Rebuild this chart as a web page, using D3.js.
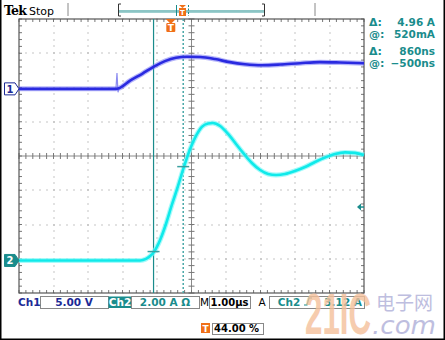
<!DOCTYPE html>
<html><head><meta charset="utf-8">
<script src="https://cdn.jsdelivr.net/npm/d3@7"></script>
<style>html,body{margin:0;padding:0;background:#fff;}svg{display:block;}</style>
</head><body>
<script>
// ---- data (time in µs relative to trigger) ----
const ch1Time = [-4.40,-1.59,-1.56,-1.53,-1.50,-1.18,-0.83,-0.49,-0.17,0.15,0.47,0.85,1.28,1.71,2.15,2.64,3.17,3.75,4.32,4.90,5.60];
const ch1Volts = [0,0,2.3,-0.5,0.1,1.2,2.2,3.25,4.05,4.55,4.7,4.65,4.35,3.9,3.6,3.45,3.55,3.75,3.9,3.85,3.75];
const ch2Time = [-4.40,-0.89,-0.72,-0.60,-0.49,-0.31,-0.14,0.03,0.21,0.38,0.56,0.73,0.90,1.08,1.22,1.43,1.66,1.89,2.12,2.35,2.59,2.82,3.05,3.31,3.60,3.89,4.18,4.47,4.76,5.05,5.34,5.60];
const ch2Amps = [0,0,0.09,0.26,0.5,1.2,2.13,3.24,4.35,5.46,6.51,7.27,7.80,8.0,8.03,7.85,7.39,6.80,6.22,5.69,5.28,5.05,4.99,5.05,5.23,5.46,5.75,6.01,6.22,6.31,6.28,6.16];
const cursorTimes = [-0.5, 0.36];
const cursorAmps = [0.52, 5.48];
const triggerLevel = 3.12;
const ch1Scale = 5.0, ch2Scale = 2.0;       // per division
const ch1Offset = 1.96, ch2Offset = -3.05;  // divisions
const readout = [["Δ:","4.96 A"],["@:","520mA"],["Δ:","860ns"],["@:","−500ns"]];

const W=445,H=340, L=19,R=364,T=19,B=293;
const svg=d3.select("body").append("svg").attr("width",W).attr("height",H);
const x=d3.scaleLinear().domain([-4.4,5.6]).range([L,R]);
const ydiv=d3.scaleLinear().domain([-4,4]).range([B,T]);
const y1=v=>ydiv(ch1Offset+v/ch1Scale);
const y2=v=>ydiv(ch2Offset+v/ch2Scale);
const dx=(R-L)/10, dy=(B-T)/8;
const TEAL="#1a8c8c", BLUE1="#1c2a96", ORANGE="#f07018";

svg.append("rect").attr("width",W).attr("height",H).attr("fill","#fff");

// graticule
const g=svg.append("g");
const dots=[];
for(let i=1;i<10;i++){ if(i===5)continue; for(let j=0;j<=40;j++) dots.push([L+i*dx, T+j*dy/5]); }
for(let j=1;j<8;j++){ if(j===4)continue; for(let i=0;i<=50;i++) dots.push([L+i*dx/5, T+j*dy]); }
g.selectAll("rect.d").data(dots).join("rect").attr("x",d=>Math.round(d[0])-0.5).attr("y",d=>Math.round(d[1])-0.5).attr("width",1).attr("height",1).attr("fill","#8a8a8a");
const cx=L+5*dx, cy=T+4*dy;
g.append("line").attr("x1",L).attr("x2",R).attr("y1",cy).attr("y2",cy).attr("stroke","#8a8a8a");
g.append("line").attr("x1",cx).attr("x2",cx).attr("y1",T).attr("y2",B).attr("stroke","#8a8a8a");
const tk=[];
for(let i=0;i<=50;i++){ const px=L+i*dx/5; tk.push([px,cy-3,px,cy+3]); tk.push([px,T,px,T+3]); tk.push([px,B-3,px,B]); }
for(let j=0;j<=40;j++){ const py=T+j*dy/5; tk.push([cx-3,py,cx+3,py]); tk.push([L,py,L+3,py]); tk.push([R-3,py,R,py]); }
g.selectAll("line.t").data(tk).join("line").attr("x1",d=>d[0]).attr("y1",d=>d[1]).attr("x2",d=>d[2]).attr("y2",d=>d[3]).attr("stroke","#777");
g.append("rect").attr("x",L).attr("y",T).attr("width",R-L).attr("height",B-T).attr("fill","none").attr("stroke","#555").attr("stroke-width",1.2);

// cursors
svg.append("line").attr("x1",x(cursorTimes[0])).attr("x2",x(cursorTimes[0])).attr("y1",T).attr("y2",B).attr("stroke",TEAL).attr("stroke-width",1.2);
svg.append("line").attr("x1",x(cursorTimes[1])).attr("x2",x(cursorTimes[1])).attr("y1",T).attr("y2",B).attr("stroke","#4aa8a8").attr("stroke-width",1.5).attr("stroke-dasharray","2,2");

// traces
const mainIdx1=ch1Time.map((t,i)=>i).filter(i=>i!==2&&i!==3);
const spikeIdx1=[1,2,3,4];
const line1=d3.line().x(i=>x(ch1Time[i])).y(i=>y1(ch1Volts[i])).curve(d3.curveMonotoneX);
const spikeLine=d3.line().x(i=>x(ch1Time[i])).y(i=>y1(ch1Volts[i]));
const line2=d3.line().x((d,i)=>x(ch2Time[i])).y(d=>y2(d)).curve(d3.curveMonotoneX);
svg.append("path").attr("d",spikeLine(spikeIdx1)).attr("fill","none").attr("stroke","#8c8cf0").attr("stroke-width",1.2);
svg.append("path").attr("d",line1(mainIdx1)).attr("fill","none").attr("stroke","#7a7af5").attr("stroke-width",5).attr("opacity",0.55);
svg.append("path").attr("d",line1(mainIdx1)).attr("fill","none").attr("stroke","#2a2ae0").attr("stroke-width",2.6);
svg.append("path").attr("d",line2(ch2Amps)).attr("fill","none").attr("stroke","#80f8f8").attr("stroke-width",5).attr("opacity",0.7);
svg.append("path").attr("d",line2(ch2Amps)).attr("fill","none").attr("stroke","#10eaea").attr("stroke-width",2.6);

// cursor value ticks
cursorTimes.forEach((t,i)=>{
  svg.append("line").attr("x1",x(t)-6).attr("x2",x(t)+6).attr("y1",y2(cursorAmps[i])).attr("y2",y2(cursorAmps[i])).attr("stroke","#3aa0a0").attr("stroke-width",1.5);
});

// trigger level arrow (right)
const ty=y2(triggerLevel);
svg.append("path").attr("d",`M${R-7},${ty} L${R-3},${ty-3.5} L${R-3},${ty+3.5} Z`).attr("fill",TEAL);
svg.append("line").attr("x1",R-4).attr("x2",R).attr("y1",ty).attr("y2",ty).attr("stroke",TEAL).attr("stroke-width",1.5);

// trigger position marker
const tx=x(0);
svg.append("path").attr("d",`M${tx-5},${T} L${tx+5},${T} L${tx},${T+5} Z`).attr("fill",ORANGE);
svg.append("rect").attr("x",tx-4.5).attr("y",T+4).attr("width",9).attr("height",9).attr("rx",1).attr("fill",ORANGE);
svg.append("text").attr("x",tx).attr("y",T+12).attr("text-anchor","middle").attr("font-family","DejaVu Sans").attr("font-weight","bold").attr("font-size",9).attr("fill","#fff").text("T");

// channel markers
function chMarker(yy,label,fill,stroke,tc){
  svg.append("path").attr("d",`M4.5,${yy-6} L15,${yy-6} L19,${yy} L15,${yy+6} L4.5,${yy+6} Z`).attr("fill",fill).attr("stroke",stroke);
  svg.append("text").attr("x",10).attr("y",yy+4).attr("text-anchor","middle").attr("font-family","DejaVu Sans").attr("font-weight","bold").attr("font-size",10).attr("fill",tc).text(label);
}
chMarker(y1(0),"1","#fff",BLUE1,BLUE1);
chMarker(y2(0),"2",TEAL,TEAL,"#fff");

// top bar
svg.append("text").attr("x",4).attr("y",15).attr("font-family","DejaVu Serif").attr("font-weight","bold").attr("font-size",12.5).attr("letter-spacing",-0.8).attr("fill","#000").text("Tek");
svg.append("text").attr("x",29).attr("y",15).attr("font-family","DejaVu Sans").attr("font-size",11).attr("fill","#000").text("Stop");
[68,315].forEach(px=>svg.append("line").attr("x1",px).attr("x2",px).attr("y1",3).attr("y2",16).attr("stroke","#888"));
svg.append("path").attr("d","M121,4 L118.5,4 L118.5,16 L121,16 M262,4 L264.5,4 L264.5,16 L262,16").attr("fill","none").attr("stroke","#333");
svg.append("line").attr("x1",119).attr("x2",264).attr("y1",11).attr("y2",11).attr("stroke",TEAL).attr("stroke-width",1);
svg.append("line").attr("x1",119).attr("x2",264).attr("y1",12.5).attr("y2",12.5).attr("stroke","#9fd0d0").attr("stroke-width",1);
svg.append("line").attr("x1",176.5).attr("x2",176.5).attr("y1",5).attr("y2",16).attr("stroke",TEAL);
svg.append("line").attr("x1",188.5).attr("x2",188.5).attr("y1",5).attr("y2",16).attr("stroke",TEAL).attr("stroke-dasharray","2,1.5");
svg.append("path").attr("d","M179,5 L186,5 L182.5,8 Z").attr("fill",ORANGE);
svg.append("rect").attr("x",179).attr("y",8).attr("width",7).attr("height",8).attr("fill",ORANGE);
svg.append("text").attr("x",182.5).attr("y",15).attr("text-anchor","middle").attr("font-family","DejaVu Sans").attr("font-weight","bold").attr("font-size",7).attr("fill","#fff").text("T");

// readouts
readout.forEach((r,i)=>{
  const yy=[26,38,55,67][i];
  svg.append("text").attr("x",369).attr("y",yy).attr("font-family","DejaVu Sans").attr("font-weight","bold").attr("font-size",11).attr("fill",TEAL).text(r[0]);
  svg.append("text").attr("x",435).attr("y",yy).attr("text-anchor","end").attr("font-family","DejaVu Sans").attr("font-weight","bold").attr("font-size",10.5).attr("fill",TEAL).text(r[1]);
});

// bottom bar
const fb={"font-family":"DejaVu Sans","font-size":10.5,"font-weight":"bold"};
function txt(px,py,s,c,anchor,extra){
  const t=svg.append("text").attr("x",px).attr("y",py).attr("fill",c).attr("text-anchor",anchor||"start").text(s);
  Object.entries(Object.assign({},fb,extra||{})).forEach(([k,v])=>t.attr(k,v));
  return t;
}
function box(x0,x1,y0,y1){svg.append("rect").attr("x",x0+0.5).attr("y",y0+0.5).attr("width",x1-x0).attr("height",y1-y0).attr("fill","#fff").attr("stroke","#888");}
box(40,108,296,308); box(131,199,296,308); box(209,250,296,308); box(269,364,296,308);
svg.append("rect").attr("x",108.5).attr("y",296.5).attr("width",22.5).attr("height",11.5).attr("fill",TEAL);
txt(18,306,"Ch1",BLUE1);
txt(74,306,"5.00 V",BLUE1,"middle");
txt(120,306,"Ch2","#fff","middle");
txt(165,306,"2.00 A Ω",TEAL,"middle");
txt(204.5,306,"M","#000","middle",{"font-weight":"normal"});
txt(229.5,306,"1.00µs","#000","middle",{"font-size":10});
txt(262,306,"A","#000","middle",{"font-weight":"normal"});
txt(289,306,"Ch2",TEAL,"middle");
svg.append("path").attr("d","M304,305 L307,305 L309,298 L312,298").attr("fill","none").attr("stroke",TEAL).attr("stroke-width",1.2);
txt(362,306,"3.12 A",TEAL,"end");
svg.append("rect").attr("x",201).attr("y",323).attr("width",9).attr("height",10).attr("fill",ORANGE);
txt(205.5,332,"T","#fff","middle",{"font-size":9});
box(212,263,323,334);
txt(214,332,"44.00 %","#000","start",{"font-size":10});

// watermark
svg.append("text").attr("x",305).attr("y",334).attr("font-family","Liberation Sans Narrow, Liberation Sans").attr("font-weight","bold").attr("font-size",58).attr("textLength",66).attr("lengthAdjust","spacingAndGlyphs").attr("fill","#f4c09a").attr("opacity",0.8).text("21IC");
svg.append("text").attr("x",376).attr("y",310).attr("font-family","Noto Sans CJK SC").attr("font-size",19).attr("fill","#b8b8dc").attr("opacity",0.9).text("电子网");
svg.append("text").attr("x",372).attr("y",334).attr("font-family","DejaVu Sans").attr("font-style","italic").attr("font-size",24).attr("textLength",64).attr("lengthAdjust","spacingAndGlyphs").attr("fill","#b8b8dc").attr("opacity",0.9).text(".com");

// outer frame
svg.append("path").attr("d",`M0.75,0 L0.75,${H-0.75} L${W-0.75},${H-0.75} L${W-0.75},0`).attr("fill","none").attr("stroke","#000").attr("stroke-width",1.5);
</script>
</body></html>
